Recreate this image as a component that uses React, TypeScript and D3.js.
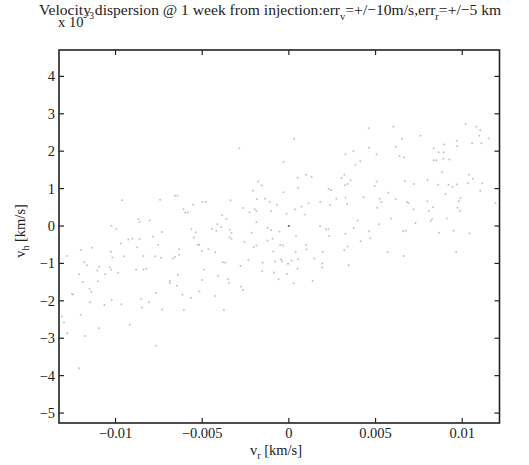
import React from "react";
import * as d3 from "d3";

// v_r [km/s]
const vr: number[] = [
  0.00031, -0.00286, -0.00031, 0.0005, 0.00053, -0.00177, -0.00155, -0.00207, -0.00031, -0.00962,
  -0.00743, -0.00656, -0.00643, -0.00552, -0.00498, -0.00479, -0.00337, -0.00608, -0.00598, -0.00583,
  -0.00265, -0.00227, -0.00198, -0.00187, -0.00184, -0.00138, -0.00111, -0.00069, -0.00103, 0.00037,
  -0.00013, -0.00385, -0.0036, -0.00868, -0.00862, -0.00802, -0.01024, -0.00995, -0.00187, -0.00444,
  -0.00419, -0.00413, -0.0039, -0.00562, -0.00537, -0.0034, -0.00331, -0.00733, -0.00215, -0.00123,
  -0.00103, -0.00054, -0.00785, -0.00926, -0.00903, -0.00862, -0.00548, -0.00342, -0.00331, -0.00094,
  -0.00123, 0.00041, -0.00754, 0.0046, 0.00603, 0.00653, 0.00759, 0.01019, 0.01082, 0.01104,
  0.01098, 0.01153, 0.01057, 0.01111, 0.00968, 0.00971, 0.00896, 0.00836, 0.00463, 0.00506,
  0.00616, 0.00372, 0.00326, 0.00638, 0.00665, 0.00836, 0.00851, 0.00865, 0.00893, 0.0089,
  0.00925, 0.00412, 0.00385, 0.00884, 0.01038, 0.01061, 0.00099, 0.00131, 0.0032, 0.00303,
  0.00355, 0.00324, 0.00339, 0.00506, 0.00495, 0.0067, 0.0072, 0.00799, 0.00861, 0.00921,
  0.00944, 0.00968, 0.01034, 0.01115, 0.00229, 0.00243, 0.01104, 0.00574, 0.00903, 0.00431,
  0.00274, 0.00327, 0.00336, 0.00524, 0.00534, 0.00616, 0.00682, 0.0069, 0.00799, 0.0083,
  0.00807, 0.0099, 0.0098, 0.00973, 0.00988, 0.01192, 0.00114, 0.00073, 0.00091, 0.00181,
  0.00237, 0.00509, 0.0072, 0.00397, 0.0059, 0.0052, 0.0073, 0.00818, 0.00826, 0.00911,
  0.0018, 0.00214, 0.00229, 0.00374, 0.00463, 0.00659, 0.00674, 0.00867, 0.00951, 0.01042,
  0.00326, 0.00233, 0.0047, 0.00414, -0.00256, -0.00968, -0.00525, -0.00517, -0.00875, -0.00204,
  -0.00188, -0.0005, -0.00034, -0.01201, -0.01137, -0.01027, -0.01018, -0.00952, -0.00839, -0.0077,
  -0.00737, -0.00633, -0.00633, -0.00656, -0.00668, -0.00502, -0.00465, -0.00425, -0.0009, 0.00039,
  -0.01281, -0.0118, -0.01163, -0.01095, -0.01105, -0.01033, -0.01026, -0.00985, -0.00881, -0.00839,
  -0.00822, -0.00381, -0.00367, -0.00279, -0.00234, -0.00152, -0.00079, -0.00046, -0.0004, -0.00005,
  0.00016, 0.00053, 0.0005, -0.00489, -0.00154, -0.00086, -0.0121, -0.01189, -0.01102, -0.0106,
  -0.0064, -0.00408, -0.00059, -0.00011, 0.00027, -0.00687, -0.00687, -0.005, -0.00352, -0.00346,
  -0.00646, -0.00277, -0.00265, -0.01149, -0.01139, -0.00766, -0.01251, -0.01245, -0.00614, -0.00565,
  -0.00516, -0.00425, -0.01022, -0.00852, -0.01147, -0.00808, -0.01064, -0.00966, -0.00847, -0.00731,
  -0.00606, -0.00375, -0.0131, -0.01297, -0.01201, -0.00918, -0.01095, -0.01278, -0.01176, -0.00767,
  -0.0121, 0.001, 0.00102, 0.00195, 0.0032, 0.00339, 0.00147, 0.00193, 0.00193, 0.00345,
  0.00137, 0.0057, 0.00662, 0.00965,
];

// v_h [x 10^-3 km/s]
const vh: number[] = [
  2.33, 2.08, 1.71, 1.29, 1.02, 1.19, 1.08, 0.94, 0.9, 0.69,
  0.7, 0.81, 0.81, 0.57, 0.64, 0.65, 0.69, 0.45, 0.36, 0.36,
  0.48, 0.36, 0.45, 0.4, 0.72, 0.73, 0.65, 0.57, 0.4, 0.44,
  0.33, 0.29, 0.19, 0.18, 0.11, 0.15, 0.01, -0.07, 0.11, -0.07,
  -0.13, 0.05, -0.03, -0.09, -0.17, -0.1, -0.18, -0.16, -0.18, -0.05,
  -0.11, -0.15, -0.28, -0.36, -0.34, -0.35, -0.31, -0.3, -0.34, -0.34,
  -0.39, -0.26, -0.5, 2.61, 2.65, 2.33, 2.41, 2.73, 2.65, 2.56,
  2.41, 2.34, 2.21, 2.21, 2.28, 2.13, 2.18, 2.08, 2.09, 1.92,
  2.12, 2.0, 1.92, 1.87, 1.84, 1.76, 1.76, 1.97, 1.97, 1.8,
  1.78, 1.73, 1.64, 1.44, 1.37, 1.26, 1.37, 1.32, 1.37, 1.29,
  1.22, 1.09, 1.12, 1.19, 1.07, 1.2, 1.12, 1.23, 1.1, 1.1,
  1.04, 1.11, 1.14, 1.14, 0.99, 0.96, 0.94, 0.89, 0.85, 0.77,
  0.73, 0.76, 0.59, 0.73, 0.64, 0.72, 0.64, 0.61, 0.66, 0.5,
  0.4, 0.75, 0.66, 0.49, 0.41, 0.61, 0.61, 0.52, 0.31, 0.65,
  0.56, 0.49, 0.45, 0.15, 0.2, 0.05, 0.08, 0.13, 0.18, 0.2,
  0.0, -0.09, -0.09, -0.05, -0.14, -0.14, -0.13, -0.18, -0.13, -0.2,
  -0.21, -0.27, -0.33, -0.41, -0.43, -0.47, -0.5, -0.5, -0.57, -0.56,
  -0.52, -0.51, -0.52, -0.64, -0.58, -0.69, -0.84, -0.81, -0.8, -0.81,
  -0.85, -0.62, -0.77, -0.82, -0.87, -0.67, -0.62, -0.7, -0.68, -0.69,
  -0.8, -0.97, -1.05, -1.09, -1.19, -1.1, -1.17, -1.25, -1.16, -1.16,
  -1.14, -0.97, -0.98, -1.07, -0.9, -0.98, -0.95, -0.89, -0.94, -1.01,
  -0.92, -0.89, -1.14, -1.16, -1.2, -1.24, -1.29, -1.5, -1.48, -1.29,
  -1.3, -1.33, -1.42, -1.28, -1.53, -1.47, -1.53, -1.44, -1.42, -1.52,
  -1.6, -1.62, -1.71, -1.68, -1.76, -1.79, -1.82, -1.83, -1.84, -1.92,
  -1.75, -1.87, -1.98, -1.95, -2.04, -2.04, -2.11, -2.09, -2.18, -2.23,
  -2.25, -2.25, -2.42, -2.58, -2.37, -2.64, -2.73, -2.87, -2.94, -3.2,
  -3.8, -0.51, -0.63, -0.69, -0.64, -0.55, -0.87, -1.0, -1.11, -1.05,
  -1.47, -0.7, -0.8, -0.7,
];

// nominal point (darker)
const nominalVr = [0];
const nominalVh = [0];

const xTicks = [-0.01, -0.005, 0, 0.005, 0.01];
const xTickLabels = ["\u22120.01", "\u22120.005", "0", "0.005", "0.01"];
const yTicks = [-5, -4, -3, -2, -1, 0, 1, 2, 3, 4];
const yTickLabels = ["\u22125", "\u22124", "\u22123", "\u22122", "\u22121", "0", "1", "2", "3", "4"];

const W = 529;
const H = 465;
const L = 59, R = 499.5, T = 50, B = 423;
const FONT = "Liberation Serif, DejaVu Serif, serif";

export default function App() {
  const x = d3.scaleLinear().domain([-0.01326, 0.01215]).range([L, R]);
  const y = d3.scaleLinear().domain([-5.266, 4.705]).range([B, T]);
  const tl = 5;
  const axisColor = "#222";
  const ts = { fontFamily: FONT };
  return (
    <svg width={W} height={H} style={{ position: "absolute", left: 0, top: 0, background: "#fff" }}>
      <rect x={0} y={0} width={W} height={H} fill="#fff" />
      {/* points */}
      <g>
        {vr.map((v, i) => (
          <circle key={i} cx={x(v)} cy={y(vh[i])} r={1} fill="#c2c2c2" />
        ))}
        {nominalVr.map((v, i) => (
          <circle key={"n" + i} cx={x(v)} cy={y(nominalVh[i])} r={1.1} fill="#666" />
        ))}
      </g>
      {/* ticks */}
      <g stroke={axisColor} strokeWidth={1.2}>
        {xTicks.map((t, i) => (
          <g key={"xt" + i}>
            <line x1={x(t)} x2={x(t)} y1={B} y2={B - tl} />
            <line x1={x(t)} x2={x(t)} y1={T} y2={T + tl} />
          </g>
        ))}
        {yTicks.map((t, i) => (
          <g key={"yt" + i}>
            <line x1={L} x2={L + tl} y1={y(t)} y2={y(t)} />
            <line x1={R} x2={R - tl} y1={y(t)} y2={y(t)} />
          </g>
        ))}
      </g>
      <rect x={L} y={T} width={R - L} height={B - T} fill="none" stroke={axisColor} strokeWidth={1.6} />
      {/* tick labels */}
      <g style={ts} fontSize={14.5} fill="#222">
        {xTicks.map((t, i) => (
          <text key={"xl" + i} x={x(t)} y={438} textAnchor="middle">
            {xTickLabels[i]}
          </text>
        ))}
        {yTicks.map((t, i) => (
          <text key={"yl" + i} x={55} y={y(t)} dy="0.35em" textAnchor="end">
            {yTickLabels[i]}
          </text>
        ))}
      </g>
      {/* exponent */}
      <g style={ts} fill="#222">
        <text x={58} y={27} fontSize={14.5}>x 10</text>
        <text x={84} y={18.5} fontSize={9.5}>{"\u22123"}</text>
      </g>
      {/* title */}
      <text x={39} y={15} style={ts} fontSize={15.6} fill="#222">
        <tspan>Velocity dispersion @ 1 week from injection:err</tspan>
        <tspan dy={5} fontSize={10.5}>v</tspan>
        <tspan dy={-5}>=+/{"\u2212"}10m/s,err</tspan>
        <tspan dy={5} fontSize={10.5}>r</tspan>
        <tspan dy={-5}>=+/{"\u2212"}5 km</tspan>
      </text>
      {/* x label */}
      <text x={276} y={455} style={ts} fontSize={14.5} fill="#222" textAnchor="middle">
        <tspan>v</tspan>
        <tspan dy={4} fontSize={10}>r</tspan>
        <tspan dy={-4}> [km/s]</tspan>
      </text>
      {/* y label */}
      <text transform="translate(25,231) rotate(-90)" style={ts} fontSize={14.5} fill="#222" textAnchor="middle">
        <tspan>v</tspan>
        <tspan dy={4} fontSize={10}>h</tspan>
        <tspan dy={-4}> [km/s]</tspan>
      </text>
    </svg>
  );
}
